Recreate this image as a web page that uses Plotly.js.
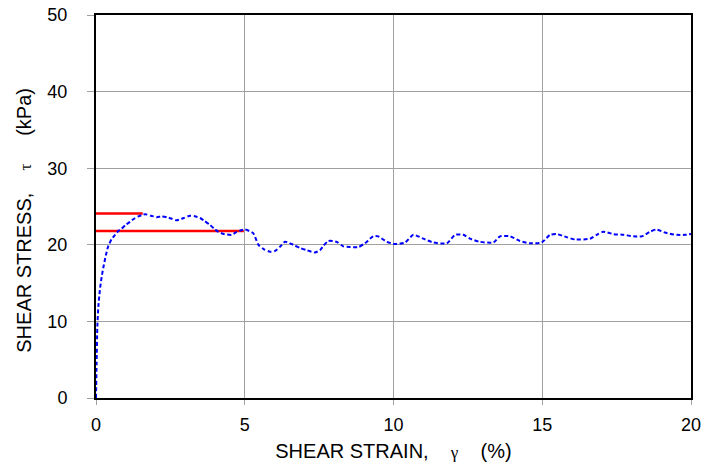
<!DOCTYPE html>
<html>
<head>
<meta charset="utf-8">
<script src="https://cdn.plot.ly/plotly-3.0.1.min.js"></script>
<style>html,body{margin:0;padding:0;background:#fff;}#chart{width:702px;height:465px;}</style>
</head>
<body>
<div id="chart"></div>
<script>
// Shear strain (%) and shear stress (kPa)
var strain = [0, 0.02, 0.045, 0.08, 0.13, 0.19, 0.25, 0.33, 0.41, 0.52, 0.64, 0.75, 0.86, 1.0, 1.14, 1.28, 1.42, 1.55, 1.65, 1.85, 2.04, 2.2, 2.38, 2.55, 2.71, 2.95, 3.16, 3.35, 3.5, 3.65, 3.83, 3.97, 4.11, 4.3, 4.56, 4.65, 4.73, 4.88, 5.0, 5.15, 5.29, 5.46, 5.65, 5.85, 6.02, 6.2, 6.35, 6.63, 6.85, 7.08, 7.36, 7.53, 7.65, 7.81, 8.08, 8.31, 8.55, 8.82, 9.04, 9.32, 9.49, 9.77, 10.05, 10.39, 10.67, 11.0, 11.34, 11.79, 12.07, 12.35, 12.57, 12.9, 13.36, 13.58, 13.92, 14.25, 14.59, 14.98, 15.26, 15.48, 15.82, 16.1, 16.61, 16.83, 17.05, 17.39, 17.73, 18.06, 18.34, 18.62, 18.84, 19.12, 19.52, 19.8, 20.0];
var stress = [0, 4.5, 9.3, 12.0, 14.1, 15.8, 17.1, 18.6, 19.8, 20.7, 21.3, 21.8, 22.1, 22.6, 23.0, 23.4, 23.7, 23.9, 24.0, 23.8, 23.6, 23.7, 23.6, 23.4, 23.2, 23.5, 23.8, 23.7, 23.5, 23.1, 22.6, 22.1, 21.7, 21.4, 21.3, 21.5, 21.7, 21.9, 22.0, 21.8, 21.5, 20.0, 19.4, 19.1, 19.2, 19.8, 20.4, 20.0, 19.6, 19.3, 19.0, 19.3, 19.9, 20.5, 20.4, 19.8, 19.7, 19.7, 20.2, 21.1, 21.1, 20.4, 20.1, 20.3, 21.3, 20.8, 20.3, 20.2, 21.3, 21.3, 20.8, 20.4, 20.3, 21.1, 21.1, 20.5, 20.2, 20.3, 21.3, 21.4, 21.0, 20.7, 20.8, 21.3, 21.7, 21.4, 21.3, 21.1, 21.1, 21.7, 22.0, 21.6, 21.3, 21.3, 21.4];

// Reference levels (red lines)
var peakStrain = [0, 1.57];
var peakStress = [24.1, 24.1];
var residualStrain = [0, 4.97];
var residualStress = [21.8, 21.8];

var xTicks = [0, 5, 10, 15, 20];
var yTicks = [0, 10, 20, 30, 40, 50];

var nb = '\u00A0';
function sp(n) { return new Array(n + 1).join(nb); }
var greek = function (c) { return '<span style="font-family:\'Liberation Serif\',serif;font-size:17px">' + c + '</span>'; };

var traces = [
  {x: peakStrain, y: peakStress, mode: 'lines', line: {color: '#ff0000', width: 2.5}, hoverinfo: 'skip'},
  {x: residualStrain, y: residualStress, mode: 'lines', line: {color: '#ff0000', width: 2.5}, hoverinfo: 'skip'},
  {x: strain, y: stress, mode: 'lines', line: {color: '#0000ff', width: 2, dash: '4px,2.5px', shape: 'spline', smoothing: 0.6}}
];

var layout = {
  width: 702, height: 465,
  margin: {l: 96, r: 11, t: 15, b: 67},
  showlegend: false,
  paper_bgcolor: '#ffffff', plot_bgcolor: '#ffffff',
  font: {family: '"Liberation Sans", Arial, sans-serif', size: 18, color: '#000'},
  xaxis: {
    range: [0, 20], tickvals: xTicks, ticktext: xTicks.map(String),
    showgrid: true, gridcolor: '#a0a0a0', gridwidth: 1,
    zeroline: false, showline: true, linecolor: '#000', linewidth: 2, mirror: true,
    ticks: 'outside', ticklen: 5, tickcolor: '#a0a0a0', ticklabelstandoff: 4,
    title: {text: 'SHEAR STRAIN,' + sp(4) + greek('γ') + sp(4) + '(%)', standoff: 10, font: {size: 20}}
  },
  yaxis: {
    range: [0, 50], tickvals: yTicks, ticktext: yTicks.map(String),
    showgrid: true, gridcolor: '#a0a0a0', gridwidth: 1,
    zeroline: false, showline: true, linecolor: '#000', linewidth: 2, mirror: true,
    ticks: 'outside', ticklen: 7, tickcolor: '#a0a0a0', ticklabelstandoff: 16,
    title: {text: 'SHEAR STRESS,' + sp(4) + greek('τ') + sp(5) + '(kPa)' + sp(4) + '<span style="color:#ffffff">.</span>', standoff: 10, font: {size: 20}}
  }
};

Plotly.newPlot('chart', traces, layout, {displayModeBar: false, staticPlot: true});
</script>
</body>
</html>
